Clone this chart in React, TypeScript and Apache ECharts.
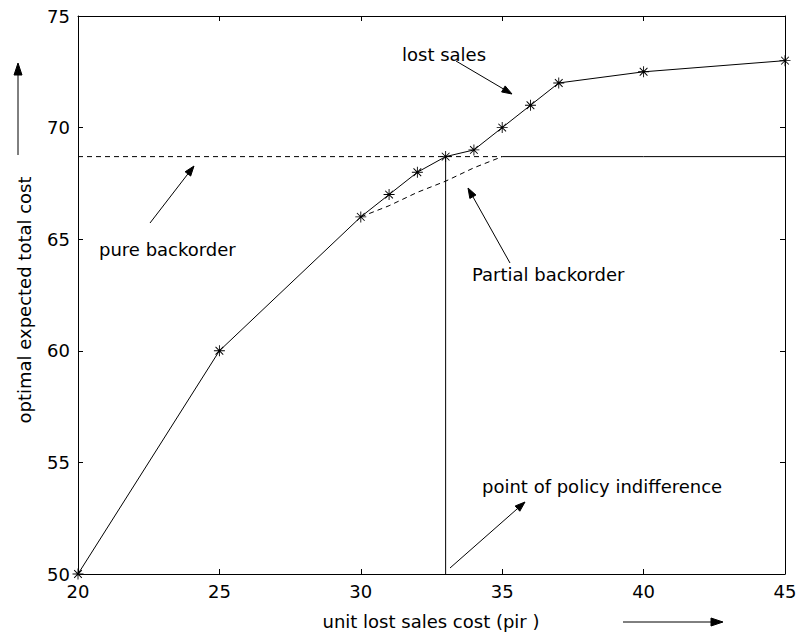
import React, { useEffect, useRef } from "react";
import * as echarts from "echarts";

const lostSalesX = [20, 25, 30, 31, 32, 33, 34, 35, 36, 37, 40, 45];
const lostSalesY = [50, 60, 66, 67, 68, 68.7, 69, 70, 71, 72, 72.5, 73];
const pureBackorderX = [20, 35];
const pureBackorderY = [68.7, 68.7];
const partialBackorderX = [30, 31, 32, 33, 34, 35];
const partialBackorderY = [66, 66.5, 67.1, 67.6, 68.2, 68.7];
const partialFlatX = [35, 40, 45];
const partialFlatY = [68.7, 68.7, 68.7];
const indifferenceX = [33, 33];
const indifferenceY = [50, 68.7];

const xMin = 20, xMax = 45, xStep = 5;
const yMin = 50, yMax = 75, yStep = 5;

const FONT = "DejaVu Sans";

const asterisk =
  "path://M0 9.2L20 9.2L20 10.8L0 10.8Z M9.2 0L10.8 0L10.8 20L9.2 20Z M2.4 3.6L3.6 2.4L17.6 16.4L16.4 17.6Z M16.4 2.4L17.6 3.6L3.6 17.6L2.4 16.4Z";

const zip = (xs: number[], ys: number[]) => xs.map((x, i) => [x, ys[i]]);

function arrow(x1: number, y1: number, x2: number, y2: number, head = 10, w = 3.5) {
  const a = Math.atan2(y2 - y1, x2 - x1);
  const bx = x2 - head * Math.cos(a);
  const by = y2 - head * Math.sin(a);
  const px = -Math.sin(a) * w;
  const py = Math.cos(a) * w;
  return [
    {
      type: "line",
      shape: { x1, y1, x2: bx, y2: by },
      style: { stroke: "#000", lineWidth: 1 },
      silent: true,
    },
    {
      type: "polygon",
      shape: { points: [[x2, y2], [bx + px, by + py], [bx - px, by - py]] },
      style: { fill: "#000", stroke: "#000", lineWidth: 1 },
      silent: true,
    },
  ];
}

function label(text: string, x: number, y: number, align = "left", rotation = 0) {
  return {
    type: "text",
    x,
    y,
    rotation,
    style: {
      text,
      fill: "#000",
      font: `18px "${FONT}"`,
      align,
      verticalAlign: "middle",
    },
    silent: true,
  };
}

export default function App() {
  const ref = useRef<HTMLDivElement>(null);

  useEffect(() => {
    const chart = echarts.init(ref.current!, null, { renderer: "svg" });
    const axisCommon = {
      type: "value",
      axisLine: { show: true, onZero: false, lineStyle: { color: "#000", width: 1 } },
      axisTick: { show: true, inside: true, length: 5, lineStyle: { color: "#000" } },
      splitLine: { show: false },
    };
    const labelStyle = { color: "#000", fontFamily: FONT, fontSize: 18, margin: 8 };
    const lineSeries = (name: string, data: number[][], type: any, withSymbol = false) => ({
      name,
      type: "line",
      data,
      showSymbol: withSymbol,
      symbol: withSymbol ? asterisk : "none",
      symbolSize: 11,
      itemStyle: { color: "#000" },
      lineStyle: { color: "#000", width: 1, type },
      clip: false,
      silent: true,
    });

    chart.setOption({
      animation: false,
      backgroundColor: "#fff",
      textStyle: { fontFamily: FONT },
      grid: { left: 78, right: 16, top: 16, bottom: 63, containLabel: false },
      xAxis: [
        { ...axisCommon, min: xMin, max: xMax, interval: xStep, position: "bottom", axisLabel: labelStyle },
        { ...axisCommon, min: xMin, max: xMax, interval: xStep, position: "top", axisLabel: { show: false } },
      ],
      yAxis: [
        { ...axisCommon, min: yMin, max: yMax, interval: yStep, position: "left", axisLabel: labelStyle },
        { ...axisCommon, min: yMin, max: yMax, interval: yStep, position: "right", axisLabel: { show: false } },
      ],
      series: [
        lineSeries("pure backorder", zip(pureBackorderX, pureBackorderY), [5, 4]),
        lineSeries("partial backorder", zip(partialBackorderX, partialBackorderY), [5, 4]),
        lineSeries("partial backorder flat", zip(partialFlatX, partialFlatY), "solid"),
        lineSeries("indifference", zip(indifferenceX, indifferenceY), "solid"),
        lineSeries("lost sales", zip(lostSalesX, lostSalesY), "solid", true),
      ],
      graphic: [
        label("lost sales", 402, 54),
        ...arrow(456, 61, 512, 94),
        label("pure backorder", 99, 249),
        ...arrow(150, 223, 194, 166),
        label("Partial backorder", 472, 274),
        ...arrow(510, 263, 468, 188),
        label("point of policy indifference", 482, 486),
        ...arrow(450, 568, 525, 502),
        label("unit lost sales cost (pir )", 431, 621, "center"),
        ...arrow(623, 622, 723, 622, 12, 4),
        label("optimal expected total cost", 24, 300, "center", Math.PI / 2),
        ...arrow(18, 155, 18, 63, 12, 4),
      ],
    });
    return () => chart.dispose();
  }, []);

  return (
    <div
      ref={ref}
      style={{ position: "fixed", left: 0, top: 0, width: 801, height: 637, background: "#fff" }}
    />
  );
}
